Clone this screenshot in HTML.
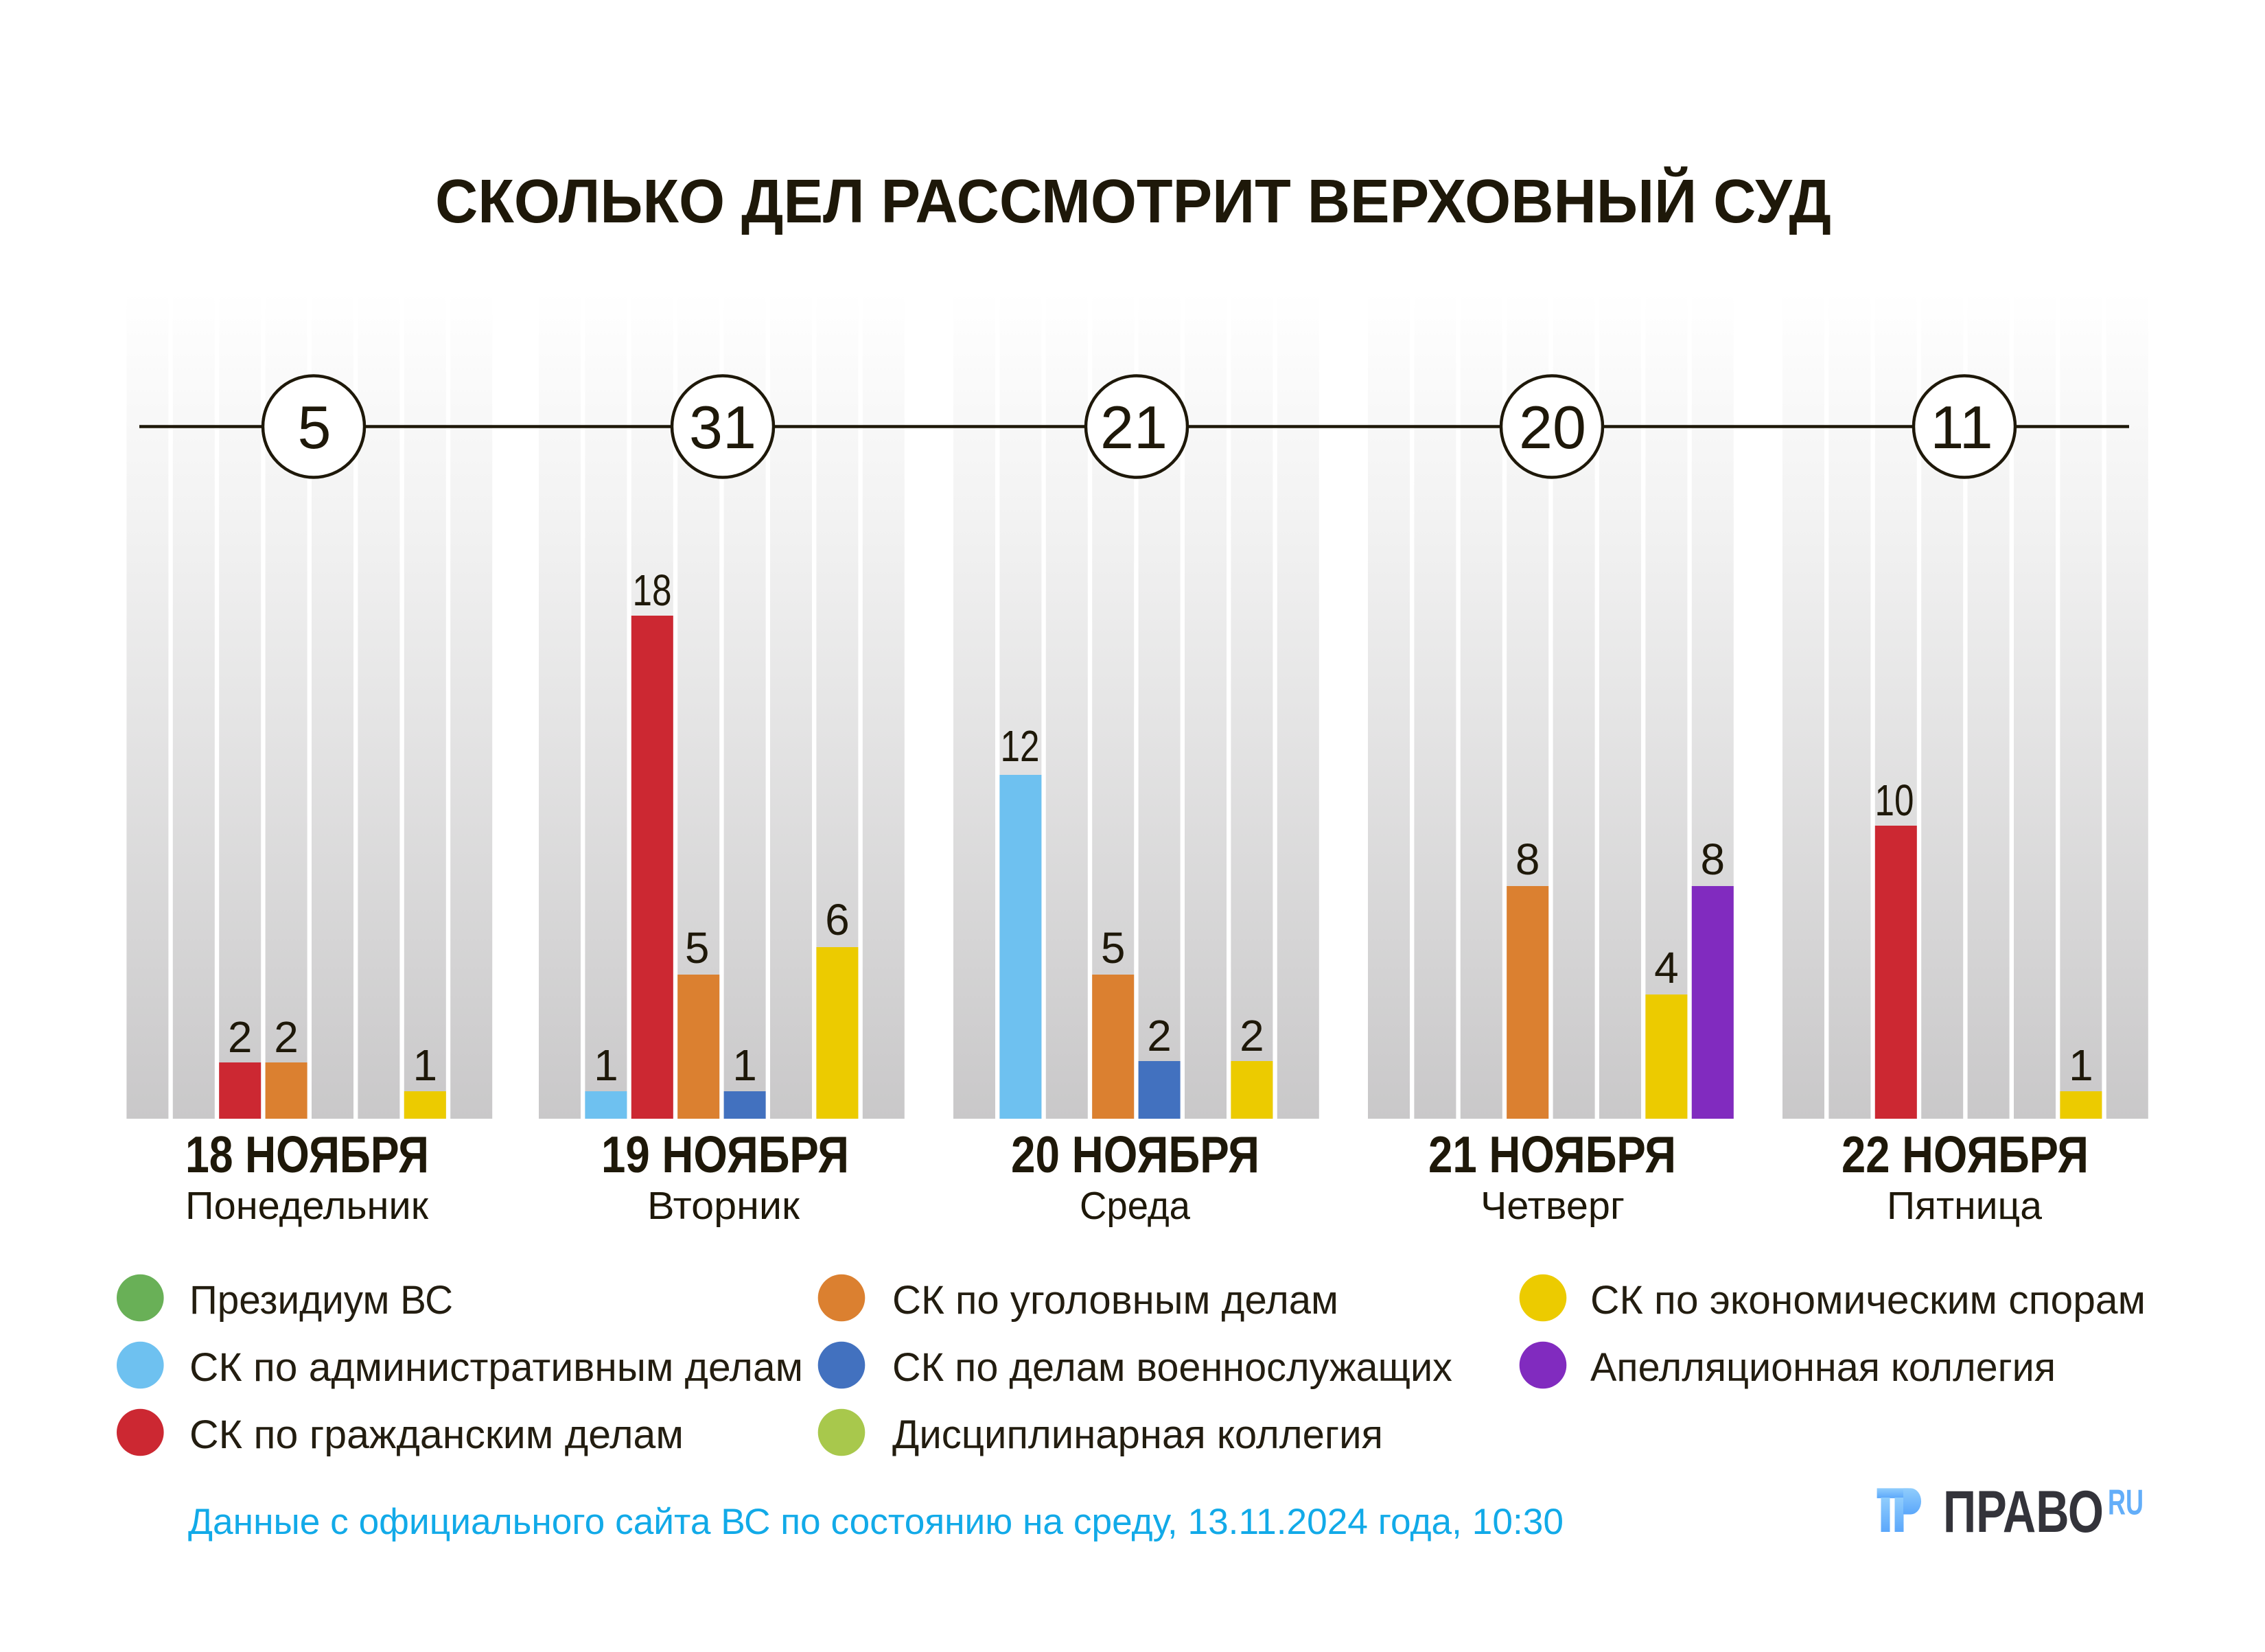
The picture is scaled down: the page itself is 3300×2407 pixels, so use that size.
<!DOCTYPE html>
<html>
<head>
<meta charset="utf-8">
<style>
html,body{margin:0;padding:0;background:#fff;}
svg{display:block;}
text{font-family:"Liberation Sans","Noto Sans CJK SC",sans-serif;}
</style>
</head>
<body>
<svg width="3300" height="2407" viewBox="0 0 3300 2407" xmlns="http://www.w3.org/2000/svg">
<defs>
<linearGradient id="colg" gradientUnits="userSpaceOnUse" x1="0" y1="425" x2="0" y2="1630">
<stop offset="0" stop-color="#ffffff"/>
<stop offset="0.3" stop-color="#f1f1f1"/>
<stop offset="1" stop-color="#c9c8c9"/>
</linearGradient>
<linearGradient id="logog" x1="0" y1="0" x2="0" y2="1">
<stop offset="0" stop-color="#90cdfc"/>
<stop offset="1" stop-color="#5ba7fb"/>
</linearGradient>
</defs>
<rect width="3300" height="2407" fill="#fff"/>

<!-- Title -->
<text x="634" y="324" font-size="90" font-weight="bold" fill="#1e1809" textLength="2034" lengthAdjust="spacingAndGlyphs">СКОЛЬКО ДЕЛ РАССМОТРИТ ВЕРХОВНЫЙ СУД</text>

<!-- Background columns -->
<g fill="url(#colg)">
<!-- G1 -->
<rect x="184.4" y="425" width="61" height="1205"/><rect x="251.8" y="425" width="61" height="1205"/><rect x="319.2" y="425" width="61" height="1205"/><rect x="386.6" y="425" width="61" height="1205"/><rect x="454" y="425" width="61" height="1205"/><rect x="521.4" y="425" width="61" height="1205"/><rect x="588.8" y="425" width="61" height="1205"/><rect x="656.2" y="425" width="61" height="1205"/>
<!-- G2 -->
<rect x="785" y="425" width="61" height="1205"/><rect x="852.4" y="425" width="61" height="1205"/><rect x="919.8" y="425" width="61" height="1205"/><rect x="987.2" y="425" width="61" height="1205"/><rect x="1054.6" y="425" width="61" height="1205"/><rect x="1122" y="425" width="61" height="1205"/><rect x="1189.4" y="425" width="61" height="1205"/><rect x="1256.8" y="425" width="61" height="1205"/>
<!-- G3 -->
<rect x="1389" y="425" width="61" height="1205"/><rect x="1456.4" y="425" width="61" height="1205"/><rect x="1523.8" y="425" width="61" height="1205"/><rect x="1591.2" y="425" width="61" height="1205"/><rect x="1658.6" y="425" width="61" height="1205"/><rect x="1726" y="425" width="61" height="1205"/><rect x="1793.4" y="425" width="61" height="1205"/><rect x="1860.8" y="425" width="61" height="1205"/>
<!-- G4 -->
<rect x="1993" y="425" width="61" height="1205"/><rect x="2060.4" y="425" width="61" height="1205"/><rect x="2127.8" y="425" width="61" height="1205"/><rect x="2195.2" y="425" width="61" height="1205"/><rect x="2262.6" y="425" width="61" height="1205"/><rect x="2330" y="425" width="61" height="1205"/><rect x="2397.4" y="425" width="61" height="1205"/><rect x="2464.8" y="425" width="61" height="1205"/>
<!-- G5 -->
<rect x="2597" y="425" width="61" height="1205"/><rect x="2664.4" y="425" width="61" height="1205"/><rect x="2731.8" y="425" width="61" height="1205"/><rect x="2799.2" y="425" width="61" height="1205"/><rect x="2866.6" y="425" width="61" height="1205"/><rect x="2934" y="425" width="61" height="1205"/><rect x="3001.4" y="425" width="61" height="1205"/><rect x="3068.8" y="425" width="61" height="1205"/>
</g>

<!-- Bars -->
<!-- G1 -->
<rect x="319.2" y="1548" width="61" height="82" fill="#cc2832"/>
<rect x="386.6" y="1548" width="61" height="82" fill="#db8030"/>
<rect x="588.8" y="1590" width="61" height="40" fill="#eccb00"/>
<!-- G2 -->
<rect x="852.4" y="1590" width="61" height="40" fill="#6ec1f0"/>
<rect x="919.8" y="897" width="61" height="733" fill="#cc2832"/>
<rect x="987.2" y="1420" width="61" height="210" fill="#db8030"/>
<rect x="1054.6" y="1590" width="61" height="40" fill="#4271bf"/>
<rect x="1189.4" y="1380" width="61" height="250" fill="#eccb00"/>
<!-- G3 -->
<rect x="1456.4" y="1129" width="61" height="501" fill="#6ec1f0"/>
<rect x="1591.2" y="1420" width="61" height="210" fill="#db8030"/>
<rect x="1658.6" y="1546" width="61" height="84" fill="#4271bf"/>
<rect x="1793.4" y="1546" width="61" height="84" fill="#eccb00"/>
<!-- G4 -->
<rect x="2195.2" y="1291" width="61" height="339" fill="#db8030"/>
<rect x="2397.4" y="1449" width="61" height="181" fill="#eccb00"/>
<rect x="2464.8" y="1291" width="61" height="339" fill="#812bbf"/>
<!-- G5 -->
<rect x="2731.8" y="1203" width="61" height="427" fill="#cc2832"/>
<rect x="3001.4" y="1590" width="61" height="40" fill="#eccb00"/>

<!-- Bar labels -->
<g font-size="64" fill="#1e1809" text-anchor="middle">
<text x="349.7" y="1533">2</text>
<text x="417.1" y="1533">2</text>
<text x="619.3" y="1574">1</text>
<text x="882.9" y="1574">1</text>
<text x="1015.7" y="1403">5</text>
<text x="1085.1" y="1574">1</text>
<text x="1219.9" y="1362">6</text>
<text x="1621.7" y="1403">5</text>
<text x="1689.1" y="1531">2</text>
<text x="1823.9" y="1531">2</text>
<text x="2225.7" y="1274">8</text>
<text x="2427.9" y="1432">4</text>
<text x="2495.3" y="1274">8</text>
<text x="3031.9" y="1574">1</text>
</g>
<g font-size="64" fill="#1e1809">
<text x="921.5" y="882" textLength="57" lengthAdjust="spacingAndGlyphs">18</text>
<text x="1457.5" y="1109" textLength="57" lengthAdjust="spacingAndGlyphs">12</text>
<text x="2731.5" y="1188" textLength="57" lengthAdjust="spacingAndGlyphs">10</text>
</g>

<!-- Timeline line and circles -->
<line x1="203" y1="621.5" x2="3102" y2="621.5" stroke="#1e1809" stroke-width="4.5"/>
<g fill="#fff" stroke="#1e1809" stroke-width="4.5">
<circle cx="457" cy="621.5" r="74"/>
<circle cx="1053" cy="621.5" r="74"/>
<circle cx="1656" cy="621.5" r="74"/>
<circle cx="2261" cy="621.5" r="74"/>
<circle cx="2862" cy="621.5" r="74"/>
</g>
<g font-size="88" fill="#1e1809" text-anchor="middle">
<text x="458" y="653">5</text>
<text x="1053" y="653">31</text>
<text x="1652" y="653">21</text>
<text x="2262" y="653">20</text>
<text x="2858" y="653">11</text>
</g>

<!-- Date labels -->
<g font-size="75" font-weight="bold" fill="#1e1809">
<text x="270" y="1708" textLength="355" lengthAdjust="spacingAndGlyphs">18 НОЯБРЯ</text>
<text x="876" y="1708" textLength="361" lengthAdjust="spacingAndGlyphs">19 НОЯБРЯ</text>
<text x="1473" y="1708" textLength="362" lengthAdjust="spacingAndGlyphs">20 НОЯБРЯ</text>
<text x="2081" y="1708" textLength="361" lengthAdjust="spacingAndGlyphs">21 НОЯБРЯ</text>
<text x="2683" y="1708" textLength="360" lengthAdjust="spacingAndGlyphs">22 НОЯБРЯ</text>
</g>
<g font-size="57" fill="#1e1809">
<text x="270" y="1776" textLength="354" lengthAdjust="spacingAndGlyphs">Понедельник</text>
<text x="943" y="1776" textLength="222" lengthAdjust="spacingAndGlyphs">Вторник</text>
<text x="1573" y="1776" textLength="161" lengthAdjust="spacingAndGlyphs">Среда</text>
<text x="2157" y="1776" textLength="210" lengthAdjust="spacingAndGlyphs">Четверг</text>
<text x="2749" y="1776" textLength="226" lengthAdjust="spacingAndGlyphs">Пятница</text>
</g>

<!-- Legend -->
<circle cx="204.3" cy="1891" r="34.3" fill="#69b057"/>
<circle cx="204.3" cy="1989" r="34.3" fill="#6ec1f0"/>
<circle cx="204.3" cy="2087" r="34.3" fill="#cc2832"/>
<circle cx="1226" cy="1891" r="34.3" fill="#db8030"/>
<circle cx="1226" cy="1989" r="34.3" fill="#4271bf"/>
<circle cx="1226" cy="2087" r="34.3" fill="#a8c84c"/>
<circle cx="2248" cy="1891" r="34.3" fill="#eccb00"/>
<circle cx="2248" cy="1989" r="34.3" fill="#812bbf"/>
<g font-size="58" fill="#231d10">
<text x="276" y="1914" textLength="384" lengthAdjust="spacingAndGlyphs">Президиум ВС</text>
<text x="276" y="2012" textLength="894" lengthAdjust="spacingAndGlyphs">СК по административным делам</text>
<text x="276" y="2110" textLength="720" lengthAdjust="spacingAndGlyphs">СК по гражданским делам</text>
<text x="1300" y="1914" textLength="650" lengthAdjust="spacingAndGlyphs">СК по уголовным делам</text>
<text x="1300" y="2012" textLength="816" lengthAdjust="spacingAndGlyphs">СК по делам военнослужащих</text>
<text x="1300" y="2110" textLength="715" lengthAdjust="spacingAndGlyphs">Дисциплинарная коллегия</text>
<text x="2317" y="1914" textLength="809" lengthAdjust="spacingAndGlyphs">СК по экономическим спорам</text>
<text x="2317" y="2012" textLength="678" lengthAdjust="spacingAndGlyphs">Апелляционная коллегия</text>
</g>

<!-- Footer -->
<text x="274" y="2235" font-size="53" fill="#12aae8" textLength="2004" lengthAdjust="spacingAndGlyphs">Данные с официального сайта ВС по состоянию на среду, 13.11.2024 года, 10:30</text>

<!-- Logo -->
<g fill="url(#logog)">
<rect x="2734.6" y="2168.4" width="46" height="14.5"/>
<rect x="2740.5" y="2182" width="13" height="50"/>
<rect x="2760.5" y="2182" width="13" height="50"/>
<path d="M2773 2168.4 H2784 A15 19 0 0 1 2784 2206.5 H2773 Z"/>
</g>
<text x="2831" y="2232" font-size="86" font-weight="bold" fill="#33333a" textLength="234" lengthAdjust="spacingAndGlyphs">ПРАВО</text>
<text x="3071" y="2206.5" font-size="52" font-weight="bold" fill="#63aef9" textLength="52" lengthAdjust="spacingAndGlyphs">RU</text>
</svg>
</body>
</html>
